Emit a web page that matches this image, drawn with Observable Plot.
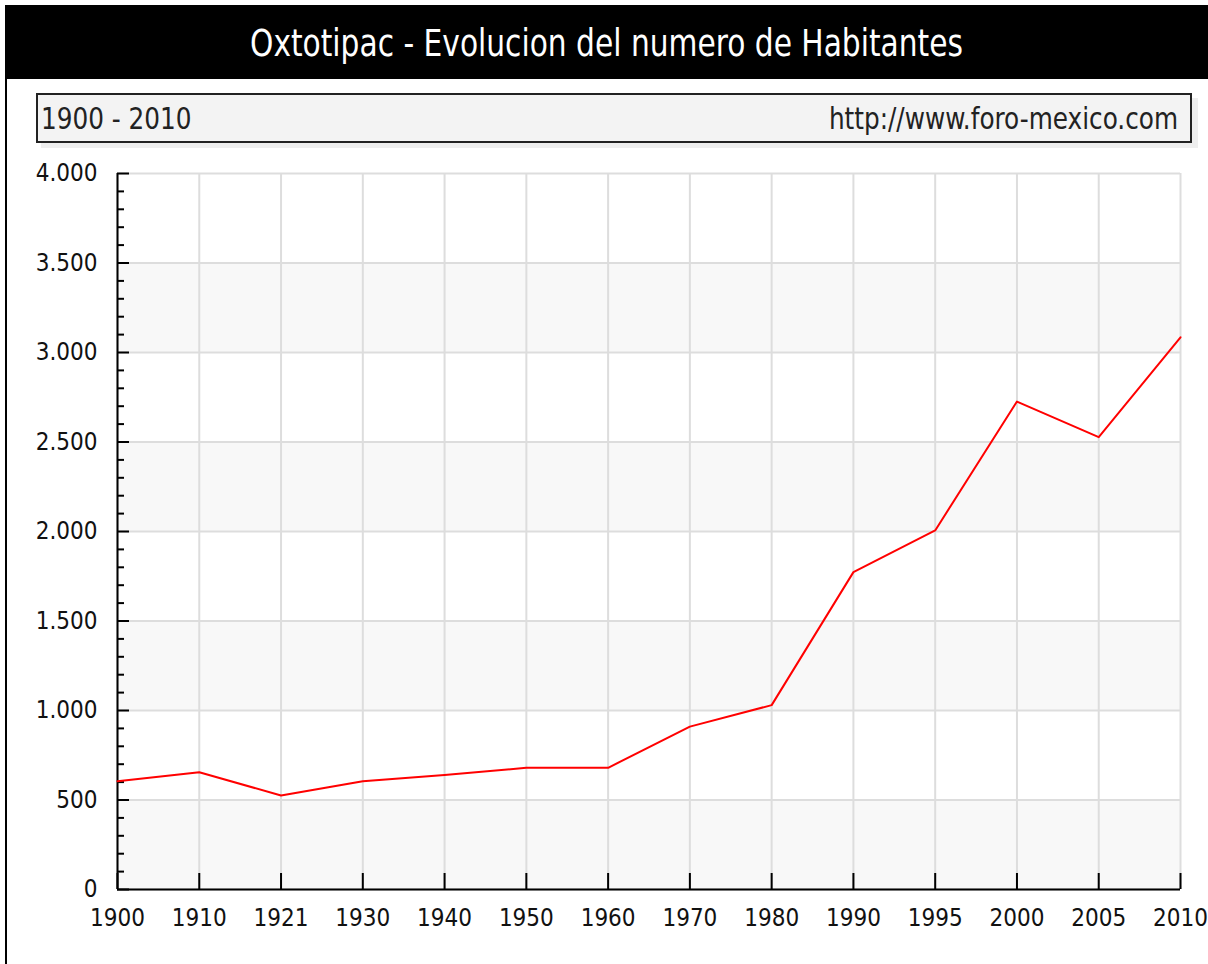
<!DOCTYPE html>
<html>
<head>
<meta charset="utf-8">
<script src="https://cdn.jsdelivr.net/npm/d3@7"></script>
<script src="https://cdn.jsdelivr.net/npm/@observablehq/plot@0.6"></script>
<style>
  html, body { margin: 0; padding: 0; background: #fff; width: 1208px; height: 964px; overflow: hidden; }
  #wrap { position: relative; width: 1208px; height: 964px; }
  #leftborder { position: absolute; left: 5px; top: 5px; width: 2px; height: 959px; background: #000; }
  #title { position: absolute; left: 5px; top: 5px; width: 1203px; height: 74px; background: #000; color: #fff;
    font-family: "DejaVu Sans Condensed", "DejaVu Sans", sans-serif; font-stretch: condensed; font-size: 33px;
    display: flex; align-items: center; justify-content: center; }
  #title span { display: inline-block; transform: scaleY(1.15); }
  #subshadow { position: absolute; left: 41px; top: 98px; width: 1157px; height: 50px; background: #eeeeee; }
  #sub { position: absolute; left: 36px; top: 93px; width: 1156px; height: 50px; background: #f3f3f3; border: 2px solid #222;
    font-family: "DejaVu Sans Condensed", "DejaVu Sans", sans-serif; font-stretch: condensed; font-size: 27.5px; color: #222;
    display: flex; align-items: center; justify-content: space-between; padding: 0 12px 0 3px; box-sizing: border-box; }
  #sub span { display: inline-block; transform: scaleY(1.1); }
  #chart { position: absolute; left: 0; top: 150px; }
  #chart svg text { font-size: 24px; }
</style>
</head>
<body>
<div id="wrap">
  <div id="title"><span>Oxtotipac - Evolucion del numero de Habitantes</span></div>
  <div id="leftborder"></div>
  <div id="subshadow"></div>
  <div id="sub"><span>1900 - 2010</span><span>http://www.foro-mexico.com</span></div>
  <div id="chart"></div>
</div>
<script>
const years = ["1900","1910","1921","1930","1940","1950","1960","1970","1980","1990","1995","2000","2005","2010"];
const population = [605, 655, 525, 605, 640, 680, 680, 910, 1030, 1773, 2006, 2726, 2527, 3085];
const majorTicks = [0, 500, 1000, 1500, 2000, 2500, 3000, 3500, 4000];
const minorTicks = d3.range(0, 4001, 100).filter(v => v % 500 !== 0);
const bandStarts = [0, 1000, 2000, 3000];
const bandSize = 500;

const data = years.map((y, i) => ({year: y, value: population[i]}));
const bands = bandStarts.map(s => ({y1: s, y2: s + bandSize}));
const fmt = v => v === 0 ? "0" : d3.format(",")(v).replace(/,/g, ".");

const chart = Plot.plot({
  width: 1208,
  height: 814,
  marginLeft: 117,
  marginRight: 28,
  marginTop: 23,
  marginBottom: 75,
  style: {fontSize: "24px", fontFamily: "'DejaVu Sans Condensed', 'DejaVu Sans', sans-serif", color: "#111", background: "transparent"},
  x: {type: "point", domain: years, padding: 0, round: false, label: null},
  y: {domain: [0, 4000], label: null},
  marks: [
    Plot.rect(bands, {y1: "y1", y2: "y2", fill: "#f8f8f8"}),
    Plot.gridY(majorTicks, {stroke: "#dddddd", strokeOpacity: 1, strokeWidth: 2}),
    Plot.gridX(years, {stroke: "#dddddd", strokeOpacity: 1, strokeWidth: 2}),
    Plot.axisY(minorTicks, {tickSize: -7, tickFormat: () => "", strokeWidth: 2, stroke: "#000"}),
    Plot.axisY(majorTicks, {tickSize: -12, tickPadding: 32, tickFormat: fmt, strokeWidth: 2, stroke: "#000", fill: "#111"}),
    Plot.axisX(years, {tickSize: -16, tickPadding: 35, strokeWidth: 2, stroke: "#000", fill: "#111"}),
    Plot.ruleY([0], {stroke: "#000", strokeWidth: 2}),
    Plot.ruleX(["1900"], {stroke: "#000", strokeWidth: 2}),
    Plot.line(data, {x: "year", y: "value", stroke: "#ff0000", strokeWidth: 2})
  ]
});
document.getElementById("chart").appendChild(chart);
</script>
</body>
</html>
